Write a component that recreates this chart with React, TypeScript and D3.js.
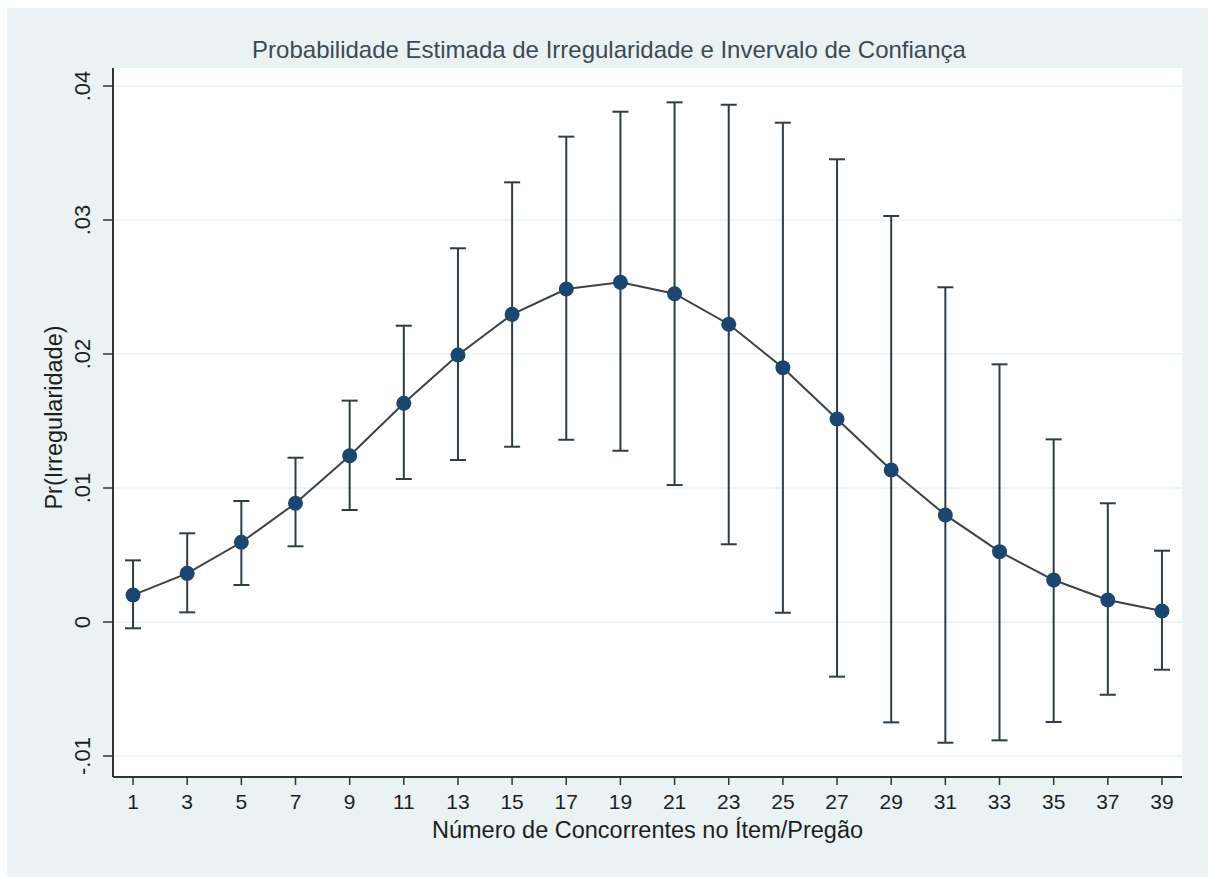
import React from "react";
import * as d3 from "d3";

const concorrentes = [1, 3, 5, 7, 9, 11, 13, 15, 17, 19, 21, 23, 25, 27, 29, 31, 33, 35, 37, 39];
const estimate = [0.00201, 0.00363, 0.00595, 0.00886, 0.01241, 0.01632, 0.01993, 0.02296, 0.02485, 0.02535, 0.0245, 0.02222, 0.01898, 0.01515, 0.01134, 0.00799, 0.00525, 0.00313, 0.00164, 0.00082];
const upperCI = [0.0046, 0.00662, 0.00903, 0.01226, 0.01652, 0.02211, 0.02789, 0.03281, 0.03622, 0.03808, 0.03878, 0.0386, 0.03726, 0.03453, 0.0303, 0.02498, 0.01923, 0.01363, 0.00886, 0.00532];
const lowerCI = [-0.00047, 0.00072, 0.00276, 0.00565, 0.00836, 0.01067, 0.01209, 0.01308, 0.0136, 0.01278, 0.01022, 0.0058, 0.00069, -0.00408, -0.00749, -0.00901, -0.00883, -0.00746, -0.00543, -0.00356];
const xTicks = [1, 3, 5, 7, 9, 11, 13, 15, 17, 19, 21, 23, 25, 27, 29, 31, 33, 35, 37, 39];
const yTicks = [-0.01, 0, 0.01, 0.02, 0.03, 0.04];

const W = 1208;
const H = 877;
const plot = { left: 113, right: 1182, top: 68, bottom: 777 };
const FONT = "'Liberation Sans', Arial, Helvetica, sans-serif";

export default function App() {
  const x = d3.scaleLinear().domain([0.26, 39.74]).range([plot.left, plot.right]);
  const y = d3.scaleLinear().domain([-0.011567, 0.041343]).range([plot.bottom, plot.top]);
  const fmt = (d: number) =>
    d === 0 ? "0" : d3.format(".2f")(d).replace("\u2212", "-").replace("0.", ".");
  const data = concorrentes.map((c, i) => ({ c, est: estimate[i], hi: upperCI[i], lo: lowerCI[i] }));
  const line = d3
    .line<{ c: number; est: number }>()
    .x((d) => x(d.c))
    .y((d) => y(d.est));
  const capHalf = 8;
  const textColor = "#1e1e1e";

  return (
    <svg width={W} height={H} style={{ position: "absolute", left: 0, top: 0 }} fontFamily={FONT}>
      <rect x={0} y={0} width={W} height={H} fill="#ffffff" />
      <rect x={7} y={8} width={W - 7} height={H - 8} fill="#eaf2f3" />
      <rect x={plot.left} y={plot.top} width={plot.right - plot.left} height={plot.bottom - plot.top} fill="#ffffff" />
      {yTicks.map((t) => (
        <line key={"g" + t} x1={plot.left} x2={plot.right} y1={y(t)} y2={y(t)} stroke="#eaf2f3" strokeWidth={1.5} />
      ))}
      {/* CI bars */}
      {data.map((d) => (
        <g key={"ci" + d.c} stroke="#2f3c48" strokeWidth={2}>
          <line x1={x(d.c)} x2={x(d.c)} y1={y(d.hi)} y2={y(d.lo)} />
          <line x1={x(d.c) - capHalf} x2={x(d.c) + capHalf} y1={y(d.hi)} y2={y(d.hi)} />
          <line x1={x(d.c) - capHalf} x2={x(d.c) + capHalf} y1={y(d.lo)} y2={y(d.lo)} />
        </g>
      ))}
      <path d={line(data) || ""} fill="none" stroke="#3b4248" strokeWidth={2} />
      {data.map((d) => (
        <circle key={"m" + d.c} cx={x(d.c)} cy={y(d.est)} r={7.5} fill="#1a476f" />
      ))}
      {/* axes */}
      <line x1={plot.left} x2={plot.left} y1={plot.top} y2={plot.bottom} stroke="#333" strokeWidth={2} />
      <line x1={plot.left} x2={plot.right} y1={plot.bottom} y2={plot.bottom} stroke="#333" strokeWidth={2} />
      {yTicks.map((t) => (
        <g key={"yt" + t}>
          <line x1={plot.left - 10} x2={plot.left} y1={y(t)} y2={y(t)} stroke="#333" strokeWidth={1.5} />
          <text
            transform={`translate(90,${y(t)}) rotate(-90)`}
            textAnchor="middle"
            fontSize={22}
            fill={textColor}
          >
            {fmt(t)}
          </text>
        </g>
      ))}
      {xTicks.map((t) => (
        <g key={"xt" + t}>
          <line x1={x(t)} x2={x(t)} y1={plot.bottom} y2={plot.bottom + 8} stroke="#333" strokeWidth={1.5} />
          <text x={x(t)} y={809} textAnchor="middle" fontSize={21} fill={textColor}>
            {t}
          </text>
        </g>
      ))}
      <text x={(plot.left + plot.right) / 2} y={838} textAnchor="middle" fontSize={23.5} fill={textColor}>
        Número de Concorrentes no Ítem/Pregão
      </text>
      <text
        transform={`translate(62,${(plot.top + plot.bottom) / 2 - 5}) rotate(-90)`}
        textAnchor="middle"
        fontSize={23.5}
        fill={textColor}
      >
        Pr(Irregularidade)
      </text>
      <text x={609} y={58} textAnchor="middle" fontSize={24} fill="#3c4a56">
        Probabilidade Estimada de Irregularidade e Invervalo de Confiança
      </text>
    </svg>
  );
}
